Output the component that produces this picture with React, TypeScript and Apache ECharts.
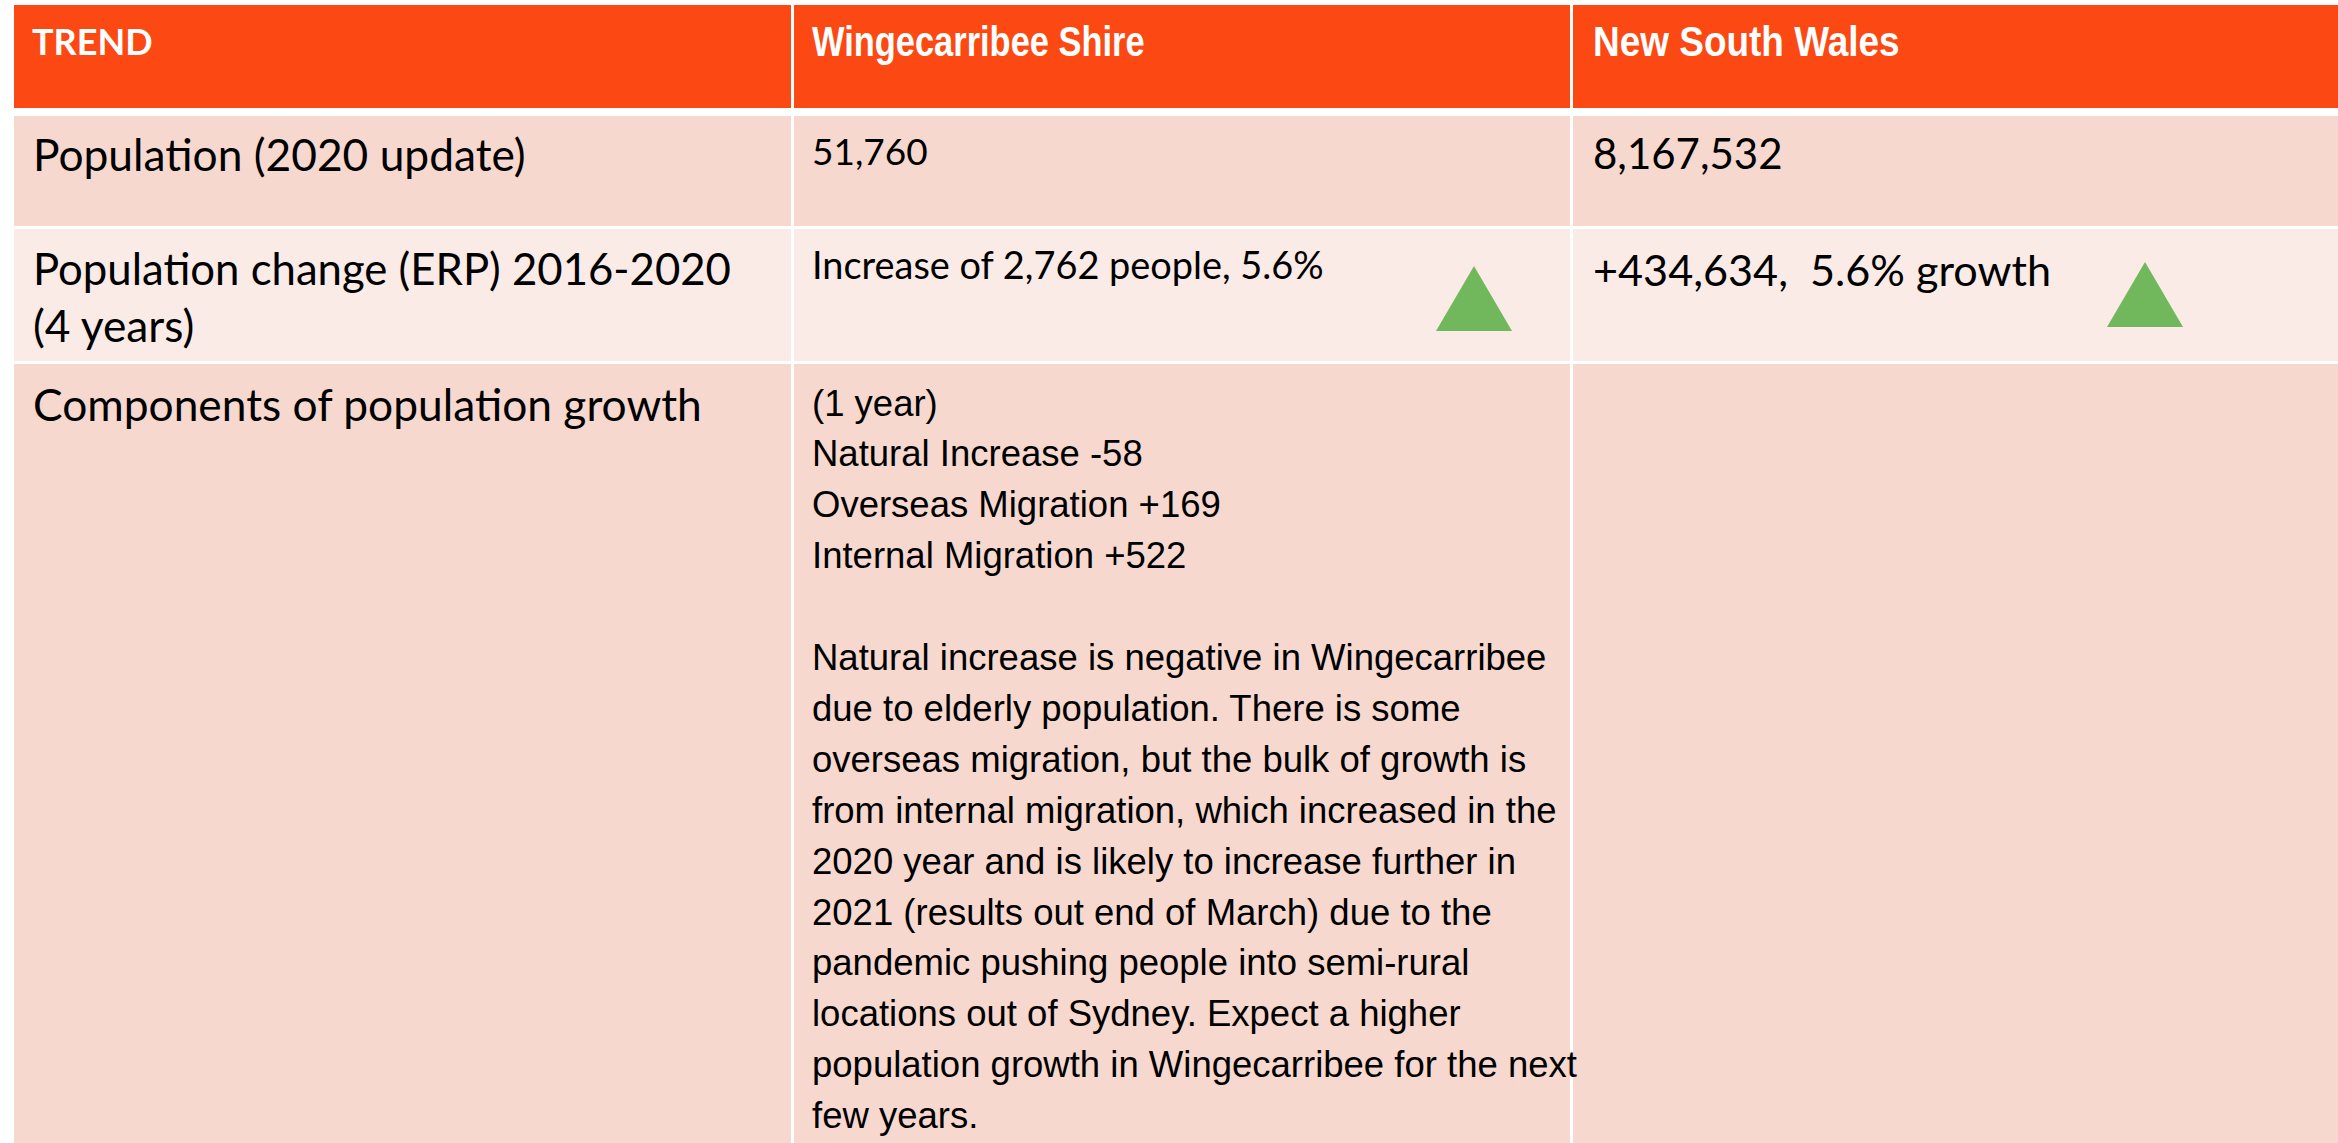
import React, { useEffect, useRef } from "react";
import * as echarts from "echarts";

// ---- Table content ----
const headers = ["TREND", "Wingecarribee Shire", "New South Wales"];
const rowLabels = [
  ["Population (2020 update)"],
  ["Population change (ERP) 2016-2020", "(4 years)"],
  ["Components of population growth"],
];
const wingecarribeeValues = ["51,760", "Increase of 2,762 people, 5.6%"];
const nswValues = ["8,167,532", "+434,634,  5.6% growth"];
const changeTrend = ["up", "up"]; // Wingecarribee, NSW
const componentLines = [
  "(1 year)",
  "Natural Increase -58",
  "Overseas Migration +169",
  "Internal Migration +522",
  "",
  "Natural increase is negative in Wingecarribee",
  "due to elderly population. There is some",
  "overseas migration, but the bulk of growth is",
  "from internal migration, which increased in the",
  "2020 year and is likely to increase further in",
  "2021 (results out end of March) due to the",
  "pandemic pushing people into semi-rural",
  "locations out of Sydney. Expect a higher",
  "population growth in Wingecarribee for the next",
  "few years.",
];

// ---- Layout / style ----
const W = 2338;
const H = 1143;
const COLS = [
  { x0: 14, x1: 791 },
  { x0: 794, x1: 1570 },
  { x0: 1573, x1: W },
];
const ROWS = [
  { y0: 5, y1: 108 },
  { y0: 116, y1: 226 },
  { y0: 229, y1: 361 },
  { y0: 364, y1: H },
];
const HEADER_FILL = "#FC4812";
const ROW_FILLS = ["#F7D8CE", "#FBEBE7", "#F7D8CE"];
const GREEN = "#71B75C";
const CAL = "Lato, 'Open Sans', sans-serif";
const ARIAL = "'Liberation Sans', Arial, sans-serif";

function txt(text: string, x: number, y: number, font: string, fill = "#000", scaleX = 1) {
  return {
    type: "text",
    x,
    y,
    scaleX,
    silent: true,
    style: {
      text,
      font,
      fill,
      align: "left",
      verticalAlign: "middle",
      textAlign: "left",
      textVerticalAlign: "middle",
    },
  };
}

function buildGraphics() {
  const g: any[] = [];
  // header
  COLS.forEach((c) => {
    g.push({
      type: "rect",
      shape: { x: c.x0, y: ROWS[0].y0, width: c.x1 - c.x0, height: ROWS[0].y1 - ROWS[0].y0 },
      style: { fill: HEADER_FILL },
    });
  });
  // body rows
  for (let r = 1; r < ROWS.length; r++) {
    COLS.forEach((c) => {
      g.push({
        type: "rect",
        shape: { x: c.x0, y: ROWS[r].y0, width: c.x1 - c.x0, height: ROWS[r].y1 - ROWS[r].y0 },
        style: { fill: ROW_FILLS[r - 1] },
      });
    });
  }
  // header text
  g.push(txt(headers[0], 32, 41, `bold 36px ${CAL}`, "#fff"));
  g.push(txt(headers[1], 812, 41, `bold 42px ${ARIAL}`, "#fff", 0.82));
  g.push(txt(headers[2], 1593, 41, `bold 42px ${ARIAL}`, "#fff", 0.88));

  // row labels
  const labelCenters = [[153], [268, 324], [403]];
  const labelSizes = [[44.3], [43.7, 44.3], [44.3]];
  rowLabels.forEach((lines, i) => {
    lines.forEach((l, j) => g.push(txt(l, 33, labelCenters[i][j], `${labelSizes[i][j]}px ${CAL}`)));
  });

  // Wingecarribee values
  g.push(txt(wingecarribeeValues[0], 812, 150, `37px ${CAL}`));
  g.push(txt(wingecarribeeValues[1], 812, 264, `37.9px ${CAL}`));
  // NSW values
  g.push(txt(nswValues[0], 1593, 153, `42px ${CAL}`));
  g.push(txt(nswValues[1], 1593, 269, `43.2px ${CAL}`));

  // trend triangles
  const triCenters = [
    { cx: 1474, top: 266, bottom: 331 },
    { cx: 2145, top: 262, bottom: 327 },
  ];
  changeTrend.forEach((t, i) => {
    const c = triCenters[i];
    const half = 38;
    const pts =
      t === "up"
        ? [[c.cx, c.top], [c.cx + half, c.bottom], [c.cx - half, c.bottom]]
        : [[c.cx - half, c.top], [c.cx + half, c.top], [c.cx, c.bottom]];
    g.push({ type: "polygon", shape: { points: pts }, style: { fill: GREEN } });
  });

  // components text
  componentLines.forEach((l, i) => {
    if (l) g.push(txt(l, 812, 403 + i * 50.9, `36.5px ${ARIAL}`));
  });
  return g;
}

export default function App() {
  const ref = useRef<HTMLDivElement>(null);
  useEffect(() => {
    if (!ref.current) return;
    const chart = echarts.init(ref.current, undefined, { renderer: "svg" });
    chart.setOption({
      animation: false,
      backgroundColor: "#ffffff",
      graphic: { elements: buildGraphics() },
    });
    return () => chart.dispose();
  }, []);
  return (
    <div
      ref={ref}
      style={{ position: "absolute", left: 0, top: 0, width: W, height: H }}
    />
  );
}
